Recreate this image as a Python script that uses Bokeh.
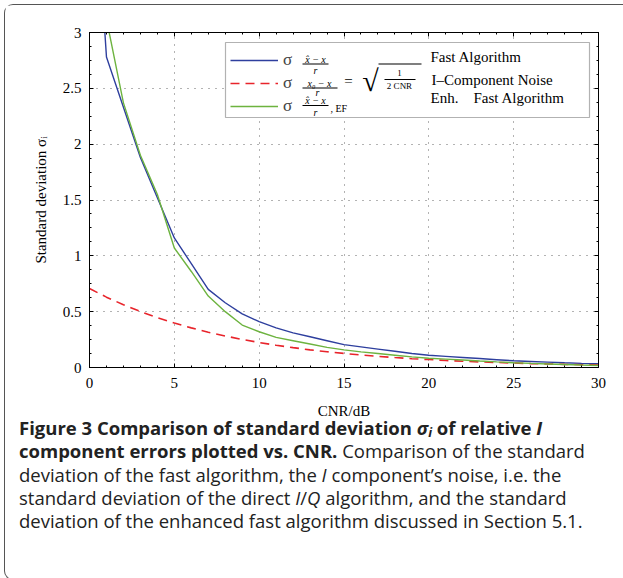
from bokeh.plotting import figure
from bokeh.layouts import column
from bokeh.models import (Range1d, LinearAxis, Label, BoxAnnotation, Legend, LegendItem, Div,
                          SingleIntervalTicker, NumeralTickFormatter, CustomJSTickFormatter)
from bokeh.core.properties import value
from bokeh.embed import file_html
from bokeh.resources import INLINE

# ---------------- data ----------------
cnr_db = list(range(31))
sigma_fast = [5.10, 2.78, 2.33, 1.88, 1.52, 1.16, 0.93, 0.70, 0.58, 0.48,
              0.41, 0.355, 0.31, 0.275, 0.24, 0.205, 0.185, 0.165, 0.145, 0.125,
              0.11, 0.10, 0.09, 0.08, 0.07, 0.06, 0.054, 0.048, 0.042, 0.037, 0.033]
sigma_noise = [0.707, 0.630, 0.562, 0.501, 0.446, 0.398, 0.355, 0.316, 0.282, 0.251,
               0.224, 0.199, 0.178, 0.158, 0.141, 0.126, 0.112, 0.100, 0.089, 0.079,
               0.071, 0.063, 0.056, 0.050, 0.045, 0.040, 0.035, 0.032, 0.028, 0.025, 0.022]
sigma_enh = [5.00, 3.12, 2.37, 1.90, 1.55, 1.07, 0.86, 0.64, 0.50, 0.38,
             0.32, 0.27, 0.24, 0.21, 0.18, 0.158, 0.14, 0.125, 0.11, 0.095,
             0.083, 0.075, 0.067, 0.058, 0.05, 0.043, 0.037, 0.032, 0.027, 0.022, 0.018]

x_label = "CNR/dB"
y_label = "Standard deviation σᵢ"
legend_right = ["Fast Algorithm", "I–Component Noise"]

caption_lines = [
    '<b>Figure 3 Comparison of standard deviation <i>σ<sub>i</sub></i> of relative <i>I</i></b>',
    '<b>component errors plotted vs. CNR.</b> Comparison of the standard',
    'deviation of the fast algorithm, the <i>I</i> component’s noise, i.e. the',
    'standard deviation of the direct <i>I</i>/<i>Q</i> algorithm, and the standard',
    'deviation of the enhanced fast algorithm discussed in Section 5.1.',
]

SERIF = "Liberation Serif"
SANS = "Open Sans"
OX, OY = 5, 5          # content origin inside the rounded border

W = 618
H1 = 418
H2 = 574 - H1

p = figure(width=W, height=H1, x_range=Range1d(0, 30), y_range=Range1d(0, 3),
           output_backend="svg", toolbar_location=None,
           min_border_left=89 - OX, min_border_right=W - (89 - OX) - 509,
           min_border_top=32 - OY, min_border_bottom=H1 - (32 - OY) - 335,
           background_fill_color="white", border_fill_color="white",
           outline_line_color="black", outline_line_width=1)

p.add_layout(LinearAxis(), "above")
p.add_layout(LinearAxis(), "right")

for ax in p.xaxis:
    ax.ticker = SingleIntervalTicker(interval=5, num_minor_ticks=5)
for ax in p.yaxis:
    ax.ticker = SingleIntervalTicker(interval=0.5, num_minor_ticks=4)

for ax in list(p.xaxis) + list(p.yaxis):
    ax.major_tick_in = 4
    ax.major_tick_out = 0
    ax.minor_tick_in = 2
    ax.minor_tick_out = 0
    ax.axis_line_color = "black"
    ax.major_tick_line_color = "black"
    ax.minor_tick_line_color = "black"
    ax.major_label_text_font = SERIF
    ax.major_label_text_font_size = "15px"
    ax.major_label_text_color = "black"
    ax.major_label_standoff = 8

p.below[0].major_label_standoff = 10
p.above[0].formatter = CustomJSTickFormatter(code="return ''")
p.right[0].formatter = CustomJSTickFormatter(code="return ''")
p.above[0].major_label_standoff = 0
p.right[0].major_label_standoff = 0
p.left[0].formatter = NumeralTickFormatter(format="0.[0]")

p.below[0].axis_label = x_label
p.left[0].axis_label = y_label
for ax in (p.below[0], p.left[0]):
    ax.axis_label_text_font = SERIF
    ax.axis_label_text_font_size = "15px"
    ax.axis_label_text_font_style = "normal"
    ax.axis_label_text_color = "black"
p.below[0].axis_label_standoff = 12
p.left[0].axis_label_standoff = 11

for g in (p.xgrid, p.ygrid):
    g.grid_line_color = "#666666"
    g.grid_line_dash = "1 6"
    g.grid_line_width = 1

r1 = p.line(cnr_db, sigma_fast, line_color="#2e3f9e", line_width=1.4)
r2 = p.line(cnr_db, sigma_noise, line_color="#e8242b", line_width=1.6, line_dash="9 6")
r3 = p.line(cnr_db, sigma_enh, line_color="#6db33f", line_width=1.4)

# ---------------- legend ----------------
def cbox(l, r, t, b, **kw):
    return BoxAnnotation(left=l - OX, right=r - OX, top=t - OY, bottom=b - OY,
                         left_units="canvas", right_units="canvas",
                         top_units="canvas", bottom_units="canvas", **kw)

p.add_layout(cbox(225, 589, 42, 117, fill_color="white", fill_alpha=1,
                  line_color="black", line_width=1.2))

leg = Legend(items=[LegendItem(label=value("σ"), renderers=[r1]),
                    LegendItem(label=value("σ"), renderers=[r2]),
                    LegendItem(label=value("σ"), renderers=[r3])],
             location=(141, 251), margin=0, padding=5, spacing=3,
             glyph_width=48, glyph_height=20, label_height=20, label_standoff=5,
             label_text_font=SERIF, label_text_font_size="17px",
             background_fill_alpha=0, border_line_color=None)
p.add_layout(leg, "center")

def clabel(x, y, text, size="10px", font=SERIF, style="normal", align="center", color="black"):
    p.add_layout(Label(x=x - OX, y=y - OY, x_units="canvas", y_units="canvas", text=text,
                       text_font=font, text_font_size=size, text_font_style=style,
                       text_align=align, text_baseline="middle", text_color=color))

def bar(l, r, y):
    p.add_layout(cbox(l, r, y - 0.5, y + 0.5, fill_color="black", fill_alpha=1, line_color=None))

# row 1
clabel(315, 58.5, "x̂ − x", style="italic")
bar(302, 328, 63.5)
clabel(315, 69.5, "r", style="italic")
# row 2
clabel(319, 83, "x₀ − x", style="italic")
bar(302, 337, 87.5)
clabel(317, 92, "r", style="italic")
clabel(348, 80, "=", size="15px")
clabel(370, 80, "√", size="30px")
bar(378, 421, 63.5)
clabel(399, 72.5, "1", size="9px")
bar(384, 415, 79)
clabel(399, 85.5, "2 CNR", size="9px")
# row 3
clabel(315, 100, "x̂ − x", style="italic")
bar(302, 328, 105)
clabel(315, 111.5, "r", style="italic")
clabel(330, 107.5, ", EF", align="left")
# right column texts
clabel(430, 56, legend_right[0], size="15px", align="left")
clabel(431, 79.5, legend_right[1], size="15px", align="left")
clabel(430, 97, "Enh.", size="15px", align="left")
clabel(473, 97, legend_right[0], size="15px", align="left")

# ---------------- caption ----------------
css = ("<style>.cap b{font-weight:700;} .cap sub{font-size:70%; line-height:0; "
       "vertical-align:-0.15em;}</style>")
cap_html = (css + '<div class="cap" style="position:relative; top:-7px; left:14px; '
            "font-family:'Open Sans'; font-size:18.5px; line-height:23.25px; "
            'color:#222222; white-space:nowrap;">' + "<br>".join(caption_lines) + "</div>")
cap_div = Div(text=cap_html, width=W, height=H2, margin=0)

layout = column(p, cap_div, spacing=0, margin=(OY - 1, 0, 0, OX - 1),
                styles={"border-top": "1px solid #555555",
                        "border-left": "1px solid #555555",
                        "border-bottom": "1px solid #555555",
                        "border-radius": "9px 0 0 9px"})

open("out.html", "w").write(file_html(layout, INLINE))
